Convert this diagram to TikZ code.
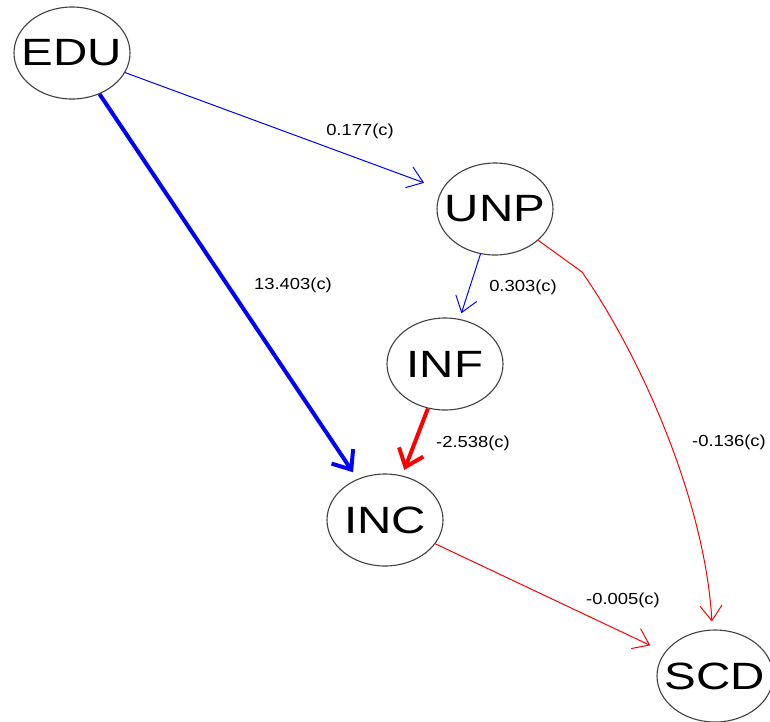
\documentclass[tikz,border=0pt]{standalone}
\usepackage{fontspec}
\setmainfont{Liberation Sans}
\usetikzlibrary{shapes.geometric,arrows.meta}

\tikzset{
  var/.style={ellipse, draw=black!75, line width=1.1pt, minimum width=116pt,
    minimum height=92pt, inner sep=0pt,
    font=\fontsize{38}{38}\selectfont},
  coef/.style={font=\fontsize{16}{16}\selectfont, inner sep=0pt},
  thinpath/.style={line width=1pt, -{Straight Barb[length=15pt,width=22pt]}},
  strongpath/.style={line width=4pt, -{Straight Barb[length=16pt,width=26pt]}},
  poseffect/.style={draw=blue},
  negeffect/.style={draw=red},
}
% node names are widened without letting them enlarge the ellipse
\newcommand{\wide}[1]{\makebox[0pt][c]{\scalebox{1.25}[1]{#1}}}
\newcommand{\wcoef}[1]{\scalebox{1.15}[1]{#1}}

\begin{document}
\begin{tikzpicture}[x=1pt, y=-1pt]
  \useasboundingbox (0,0) rectangle (770,721);

  % variables
  \node[var] (EDU) at (72,53)   {\wide{EDU}};
  \node[var] (UNP) at (495,209) {\wide{UNP}};
  \node[var] (INF) at (445,364) {\wide{INF}};
  \node[var] (INC) at (385,520) {\wide{INC}};
  \node[var] (SCD) at (715,676) {\wide{SCD}};

  % bend point of the curved path
  \coordinate (bend) at (582,272);

  % paths
  \draw[thinpath, poseffect, shorten >=19pt] (EDU) -- (UNP);
  \draw[strongpath, poseffect, shorten >=8pt] (EDU) -- (INC);
  \draw[thinpath, poseffect, shorten >=6pt] (UNP) -- (INF);
  \draw[strongpath, negeffect, shorten >=6pt] (INF) -- (INC);
  \draw[thinpath, negeffect, shorten >=16pt] (INC) -- (SCD);
  \draw[thinpath, negeffect, shorten >=8pt] (UNP) -- (bend)
    .. controls (640,355) and (705,500) .. (SCD);

  % coefficients
  \node[coef] (lEU) at (360,131) {\wcoef{0.177(c)}};
  \node[coef] (lEI) at (293,285) {\wcoef{13.403(c)}};
  \node[coef] (lUF) at (523,287) {\wcoef{0.303(c)}};
  \node[coef] (lFI) at (473,443) {\wcoef{-2.538(c)}};
  \node[coef] (lUS) at (729,442) {\wcoef{-0.136(c)}};
  \node[coef] (lIS) at (623,600) {\wcoef{-0.005(c)}};
\end{tikzpicture}
\end{document}
